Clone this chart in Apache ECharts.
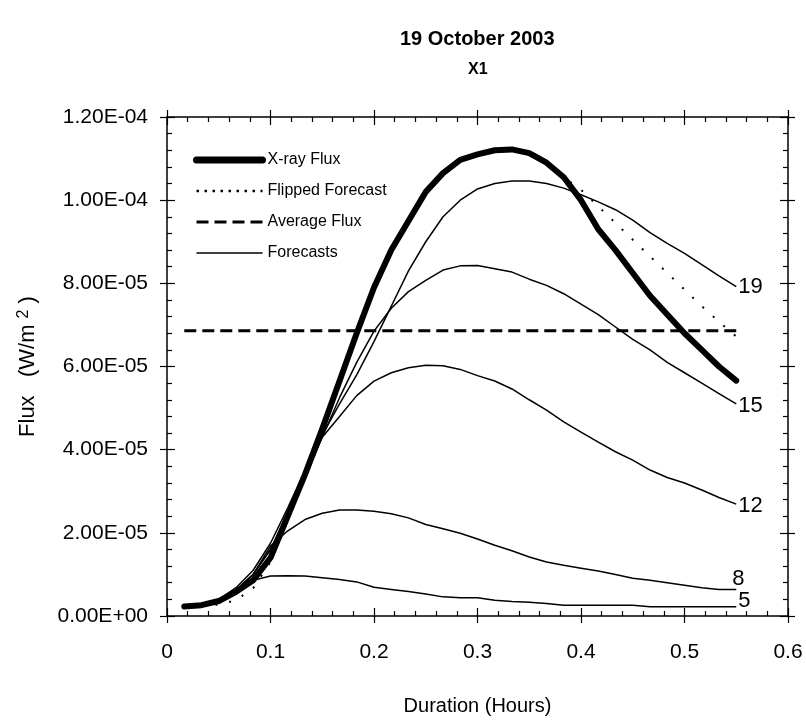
<!DOCTYPE html>
<html><head><meta charset="utf-8">
<script src="https://cdn.jsdelivr.net/npm/echarts@6/dist/echarts.min.js"></script>
<style>html,body{margin:0;padding:0;background:#fff}#c{width:806px;height:723px}</style>
</head><body><div id="c"></div><script>
// ---- data ----
const hours = [0.0167,0.0333,0.05,0.0667,0.0833,0.1,0.1167,0.1333,0.15,0.1667,0.1833,0.2,0.2167,0.2333,0.25,0.2667,0.2833,0.3,0.3167,0.3333,0.35,0.3667,0.3833,0.4,0.4167,0.4333,0.45,0.4667,0.4833,0.5,0.5167,0.5333,0.55];
const xrayFlux = [2.3e-6,2.6e-6,3.6e-6,5.8e-6,8.6e-6,1.4e-5,2.4e-5,3.4e-5,4.5e-5,5.65e-5,6.8e-5,7.9e-5,8.8e-5,9.5e-5,1.02e-4,1.065e-4,1.097e-4,1.11e-4,1.12e-4,1.122e-4,1.113e-4,1.09e-4,1.055e-4,1.0e-4,9.3e-5,8.8e-5,8.25e-5,7.7e-5,7.25e-5,6.8e-5,6.4e-5,6.0e-5,5.66e-5];
const flippedForecast = [null,2.6e-6,2.7e-6,3.8e-6,6.7e-6,1.3e-5,2.3e-5,3.4e-5,4.5e-5,5.65e-5,6.8e-5,7.9e-5,8.8e-5,9.5e-5,1.02e-4,1.065e-4,1.097e-4,1.11e-4,1.12e-4,1.122e-4,1.113e-4,1.09e-4,1.055e-4,1.025e-4,9.85e-5,9.45e-5,9.05e-5,8.65e-5,8.25e-5,7.85e-5,7.45e-5,7.08e-5,6.72e-5];
const avgFluxX = [0.0167, 0.55];
const avgFluxY = [6.86e-5, 6.86e-5];
const forecast5  = [null,null,null,null,8.6e-6,9.6e-6,9.7e-6,9.6e-6,9.2e-6,8.8e-6,8.2e-6,6.9e-6,6.4e-6,5.9e-6,5.3e-6,4.6e-6,4.4e-6,4.4e-6,3.8e-6,3.5e-6,3.3e-6,3.0e-6,2.6e-6,2.6e-6,2.6e-6,2.6e-6,2.6e-6,2.2e-6,2.2e-6,2.2e-6,2.2e-6,2.2e-6,2.2e-6];
const forecast8  = [2.3e-6,2.6e-6,3.6e-6,6.0e-6,1.0e-5,1.68e-5,2.05e-5,2.32e-5,2.47e-5,2.55e-5,2.55e-5,2.52e-5,2.46e-5,2.36e-5,2.2e-5,2.1e-5,1.99e-5,1.85e-5,1.7e-5,1.57e-5,1.42e-5,1.3e-5,1.22e-5,1.15e-5,1.08e-5,1.0e-5,9.1e-6,8.6e-6,8.0e-6,7.4e-6,6.8e-6,6.4e-6,6.4e-6];
const forecast12 = [2.3e-6,2.6e-6,3.6e-6,6.2e-6,1.0e-5,1.6e-5,2.5e-5,3.5e-5,4.3e-5,4.8e-5,5.3e-5,5.65e-5,5.85e-5,5.97e-5,6.03e-5,6.02e-5,5.93e-5,5.78e-5,5.65e-5,5.46e-5,5.2e-5,4.95e-5,4.67e-5,4.42e-5,4.18e-5,3.95e-5,3.75e-5,3.51e-5,3.33e-5,3.2e-5,3.03e-5,2.85e-5,2.69e-5];
const forecast15 = [2.3e-6,2.7e-6,3.8e-6,6.3e-6,1.0e-5,1.6e-5,2.4e-5,3.3e-5,4.3e-5,5.25e-5,6.1e-5,6.85e-5,7.4e-5,7.8e-5,8.07e-5,8.32e-5,8.42e-5,8.43e-5,8.35e-5,8.27e-5,8.1e-5,7.95e-5,7.75e-5,7.5e-5,7.25e-5,6.95e-5,6.65e-5,6.4e-5,6.1e-5,5.85e-5,5.6e-5,5.35e-5,5.1e-5];
const forecast19 = [2.3e-6,2.8e-6,4.0e-6,6.8e-6,1.1e-5,1.75e-5,2.6e-5,3.5e-5,4.35e-5,5.1e-5,5.8e-5,6.6e-5,7.45e-5,8.3e-5,9.0e-5,9.6e-5,1.0e-4,1.027e-4,1.04e-4,1.046e-4,1.046e-4,1.04e-4,1.029e-4,1.013e-4,9.96e-5,9.77e-5,9.52e-5,9.22e-5,8.96e-5,8.72e-5,8.45e-5,8.18e-5,7.92e-5];
const forecastLabels = ['5','8','12','15','19'];
const xTicks = [0,0.1,0.2,0.3,0.4,0.5,0.6];

// ---- helpers ----
const FONT = '"Liberation Sans", Arial, sans-serif';
function pairs(xs, ys){ const out=[]; for(let i=0;i<xs.length;i++){ if(ys[i]!=null) out.push([xs[i], ys[i]]); } return out; }
function fmtE(v){
  if (v === 0) return '0.00E+00';
  let e = Math.floor(Math.log10(Math.abs(v)) + 1e-9);
  let m = v / Math.pow(10, e);
  if (Math.abs(m) >= 9.995) { m /= 10; e += 1; }
  return m.toFixed(2) + 'E' + (e < 0 ? '-' : '+') + String(Math.abs(e)).padStart(2, '0');
}
const BLACK = '#000';
const CLEAR = 'rgba(0,0,0,0)';
function xAxisDef(pos, inside, labels){
  return {
    type:'value', position:pos, min:xTicks[0], max:xTicks[xTicks.length-1], interval:0.1,
    axisLine:{show:inside, onZero:false, lineStyle:{color:BLACK, width:1.5}},
    axisTick:{show:true, inside:inside, length: inside?8:7, lineStyle:{color:BLACK, width:1.2}},
    minorTick:{show:inside, splitNumber:5, length:5, lineStyle:{color:BLACK, width:1.2}},
    splitLine:{show:false}, minorSplitLine:{show:false},
    axisLabel:{show:labels, margin:26, color:BLACK, fontSize:21, fontFamily:FONT,
      formatter: v => String(Number(v.toFixed(1)))},
    name: labels ? 'Duration (Hours)' : '',
    nameLocation:'middle', nameGap:80,
    nameTextStyle:{color:BLACK, fontSize:20, fontFamily:FONT}
  };
}
function yAxisDef(pos, inside, labels){
  return {
    type:'value', position:pos, min:0, max:1.2e-4, interval:2e-5,
    axisLine:{show:inside, onZero:false, lineStyle:{color:BLACK, width:1.5}},
    axisTick:{show:true, inside:inside, length: inside?8:7, lineStyle:{color:BLACK, width:1.2}},
    minorTick:{show:inside, splitNumber:5, length:5, lineStyle:{color:BLACK, width:1.2}},
    splitLine:{show:false}, minorSplitLine:{show:false},
    axisLabel:{show:labels, margin:19, color:BLACK, fontSize:21, fontFamily:FONT, formatter: fmtE},
    name: labels ? 'Flux   (W/m {sup|2} )' : '',
    nameLocation:'middle', nameGap:127, nameRotate:90,
    nameTextStyle:{color:BLACK, fontSize:22, fontFamily:FONT,
      rich:{sup:{fontSize:16, fontFamily:FONT, color:BLACK, verticalAlign:'top', padding:[0,0,8,0]}}}
  };
}

const forecastArrays = [forecast5, forecast8, forecast12, forecast15, forecast19];
const labelOffsets = [[0,-6],[-6,-10],[0,2],[0,2],[0,0]];
const forecastSeries = forecastArrays.map((arr, i) => ({
  name:'Forecasts', type:'line', xAxisIndex:0, yAxisIndex:0,
  data: pairs(hours, arr), symbol:'none', smooth:false, z:2,
  itemStyle:{color:CLEAR},
  lineStyle:{color:BLACK, width:1.5},
  endLabel:{show:true, formatter: forecastLabels[i], color:BLACK, fontSize:22, fontFamily:FONT,
    distance:2, offset: labelOffsets[i]}
}));

const option = {
  animation:false,
  backgroundColor:'#fff',
  grid:{left:167, right:18, top:117, bottom:107, containLabel:false, outerBoundsMode:'none'},
  xAxis:[xAxisDef('bottom', true, true), xAxisDef('bottom', false, false), xAxisDef('top', true, false), xAxisDef('top', false, false)],
  yAxis:[yAxisDef('left', true, true), yAxisDef('left', false, false), yAxisDef('right', true, false), yAxisDef('right', false, false)],
  legend:{
    orient:'vertical', left:188, top:147, itemWidth:66, itemHeight:14, itemGap:15,
    itemStyle:{color:CLEAR, opacity:0},
    textStyle:{color:BLACK, fontSize:16, fontFamily:FONT},
    data:[
      {name:'X-ray Flux', lineStyle:{color:BLACK, width:7, cap:'round'}},
      {name:'Flipped Forecast', lineStyle:{color:BLACK, type:[2.5,5.5], width:2.5}},
      {name:'Average Flux', lineStyle:{color:BLACK, type:[12,6], width:3}},
      {name:'Forecasts', lineStyle:{color:BLACK, width:1.5}}
    ]
  },
  graphic:[
    {type:'text', style:{text:'19 October 2003', fill:BLACK, font:'bold 20px '+FONT}, left:400, top:29},
    {type:'text', style:{text:'X1', fill:BLACK, font:'bold 16px '+FONT}, left:468, top:62}
  ],
  series: forecastSeries.concat([
    {name:'Average Flux', type:'line', data: pairs(avgFluxX, avgFluxY), symbol:'none', z:3,
      itemStyle:{color:CLEAR},
      lineStyle:{color:BLACK, width:3, type:[12,6]}},
    {name:'X-ray Flux', type:'line', data: pairs(hours, xrayFlux), symbol:'none', z:4,
      itemStyle:{color:CLEAR},
      lineStyle:{color:BLACK, width:6, cap:'round', join:'round'}},
    {name:'Flipped Forecast', type:'line', data: pairs(hours, flippedForecast), symbol:'none', z:5,
      itemStyle:{color:CLEAR},
      lineStyle:{color:BLACK, width:2, type:[2,12]}}
  ])
};
const chart = echarts.init(document.getElementById('c'), null, {renderer:'canvas'});
chart.setOption(option);
</script></body></html>
